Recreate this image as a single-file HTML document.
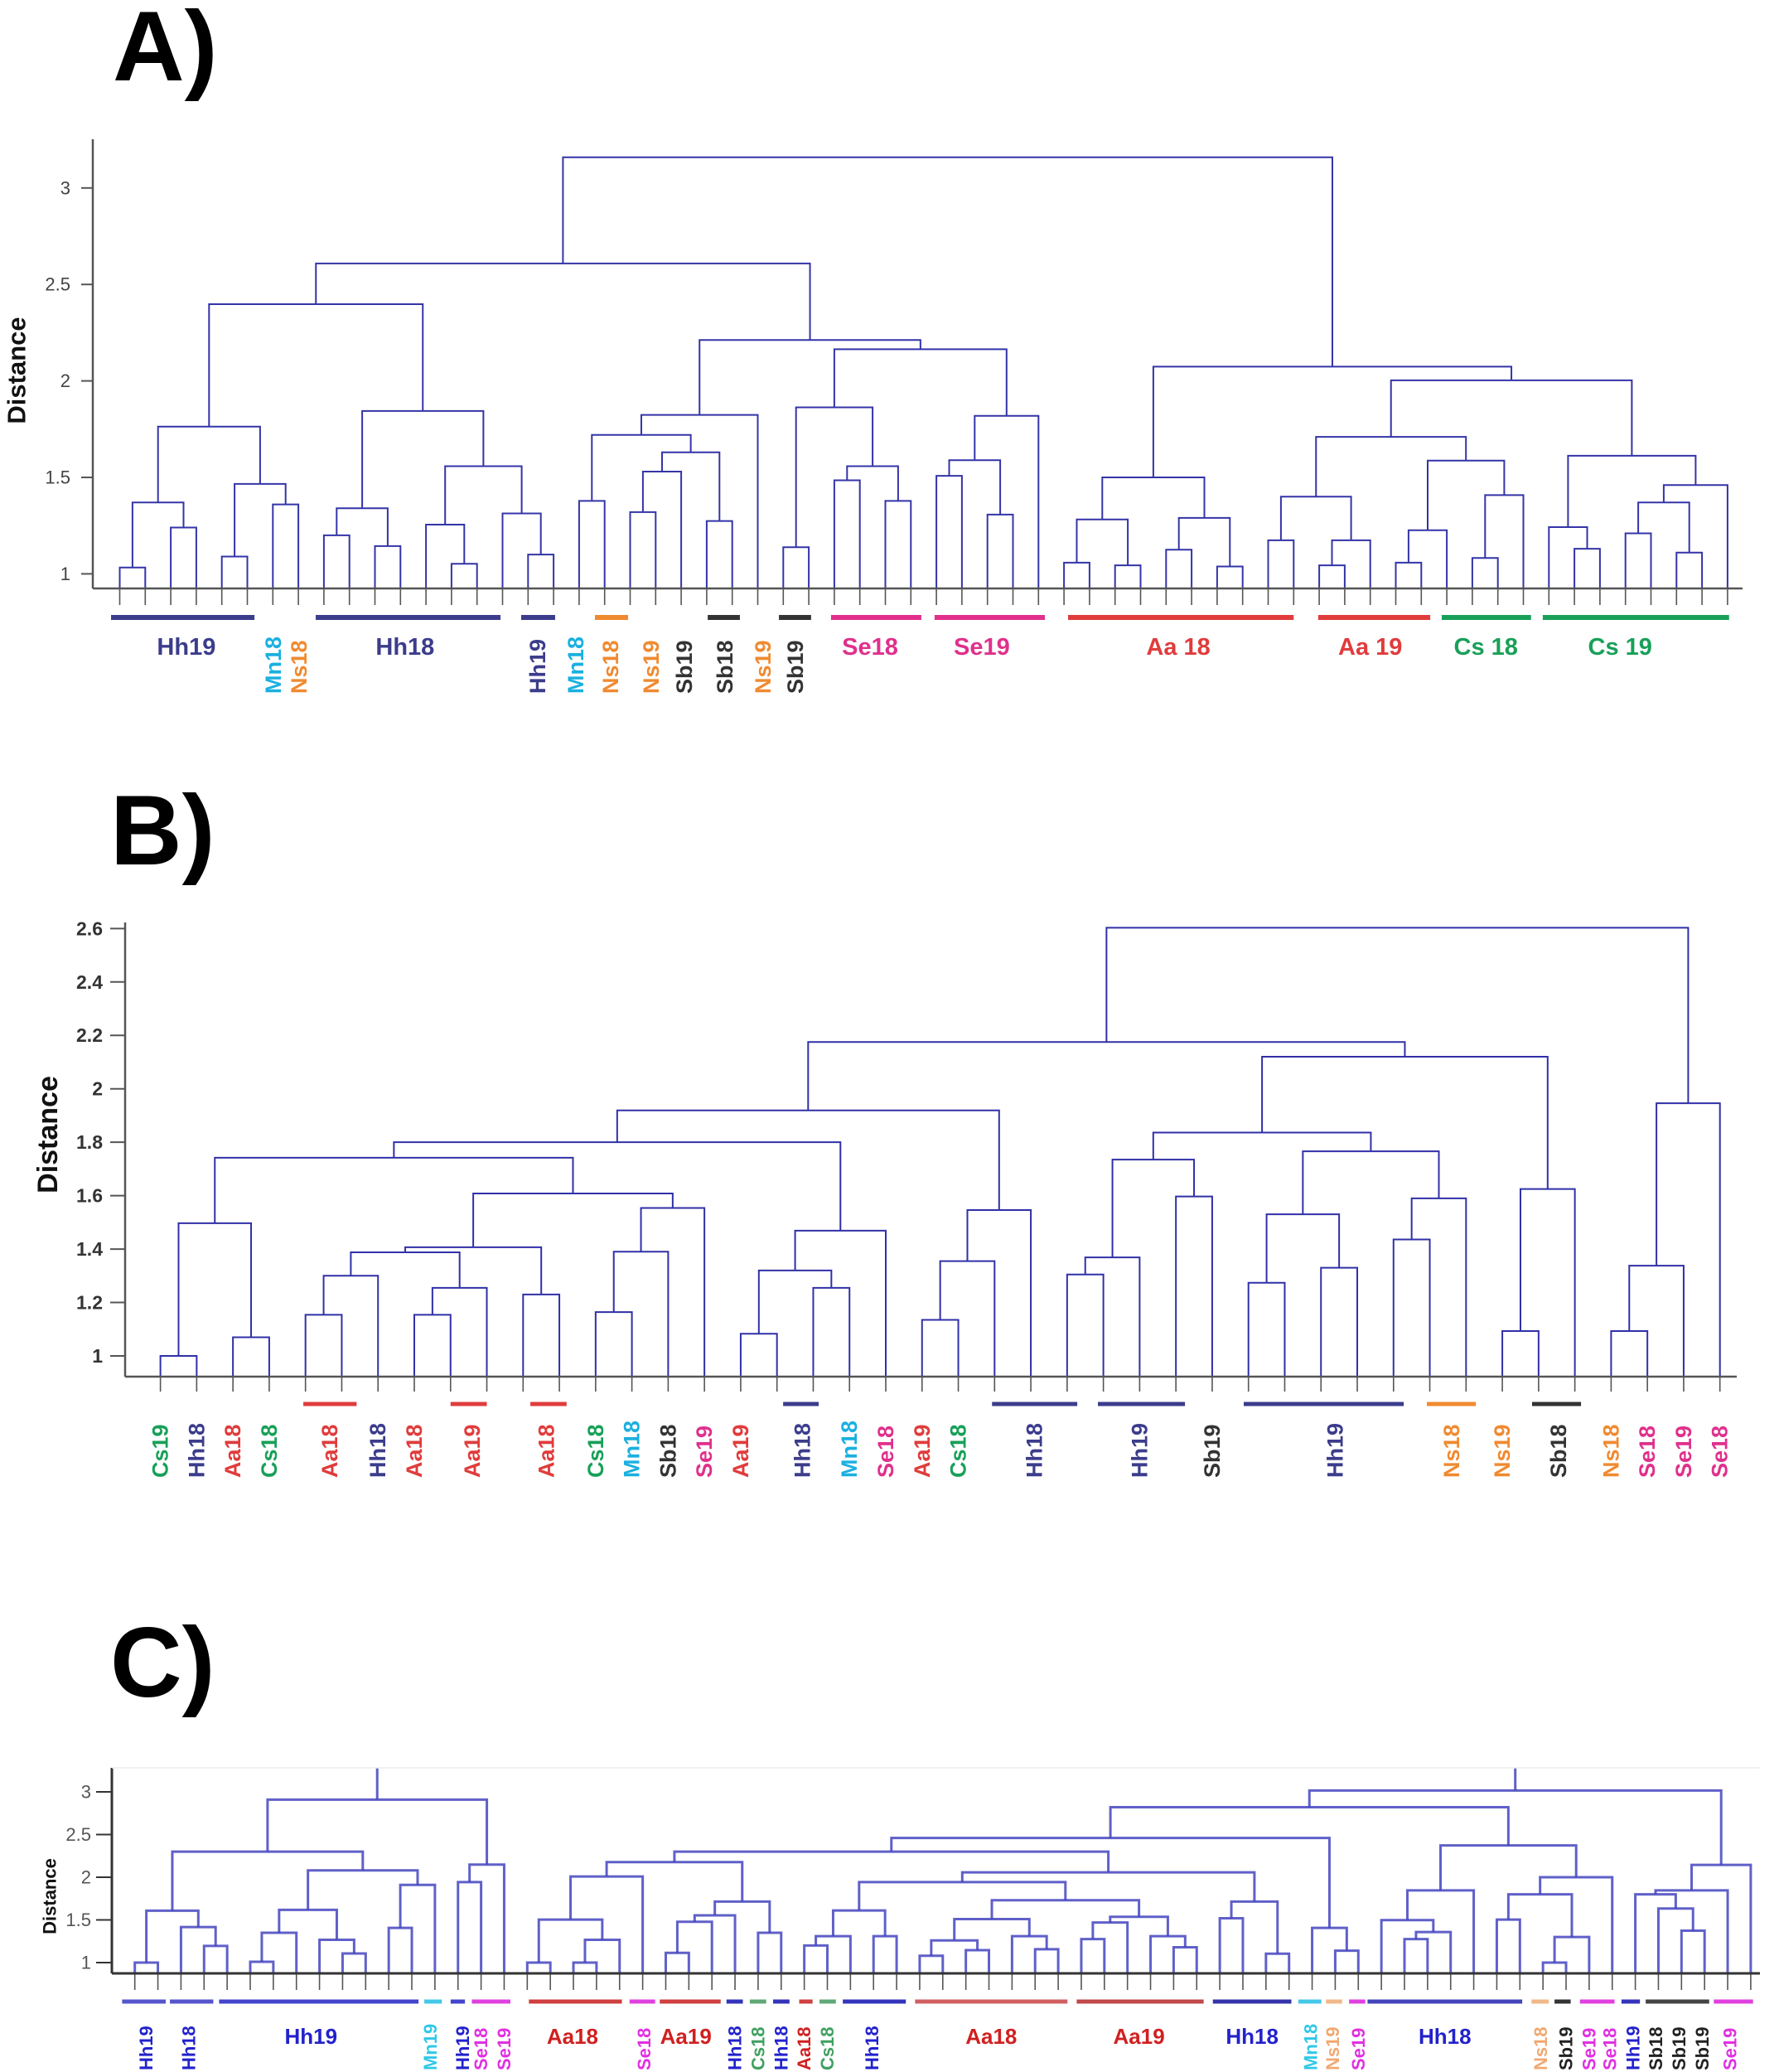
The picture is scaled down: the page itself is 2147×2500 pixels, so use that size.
<!DOCTYPE html>
<html><head><meta charset="utf-8"><style>
html,body{margin:0;padding:0;background:#fff;}
svg{display:block;font-family:"Liberation Sans",Arial,sans-serif;}
</style></head><body>
<svg id="fig" width="2147" height="2500" viewBox="0 0 2147 2500" xmlns="http://www.w3.org/2000/svg">
<defs><clipPath id="clipC"><rect x="100" y="2133" width="2047" height="367"/></clipPath></defs>
<text x="136" y="97" font-size="120" font-weight="bold">A)</text>
<text x="133" y="1043" font-size="120" font-weight="bold">B)</text>
<text x="133" y="2047" font-size="120" font-weight="bold">C)</text>
</svg>
<script>
// ---------- Panel A data ----------
const aN = 64;
const aLeft  = [0,2,64,4,6,67,66,8,10,71,13,12,16,15,75,73,70,18,20,82,23,83,81,86,26,28,30,89,88,32,34,93,95,92,87,80,37,39,100,41,43,103,102,45,47,108,107,50,111,53,113,112,110,57,56,59,61,119,121,118,116,106,99];
const aRight = [1,3,65,5,7,68,69,9,11,72,14,74,17,76,77,78,79,19,21,22,24,84,85,25,27,29,31,90,91,33,35,94,36,96,97,98,38,40,101,42,44,104,105,46,48,49,109,51,52,54,55,114,115,58,117,60,62,120,63,122,123,124,125];
const aHeight = [1.033,1.24,1.37,1.09,1.36,1.466,1.763,1.20,1.144,1.34,1.052,1.255,1.10,1.313,1.558,1.844,2.398,1.378,1.32,1.53,1.274,1.63,1.72,1.824,1.138,1.485,1.378,1.558,1.863,1.508,1.307,1.589,1.819,2.164,2.212,2.609,1.058,1.044,1.282,1.125,1.038,1.29,1.50,1.174,1.044,1.174,1.40,1.058,1.226,1.082,1.408,1.587,1.71,1.13,1.242,1.21,1.11,1.37,1.46,1.612,2.003,2.074,3.159];
const aTicks = [1,1.5,2,2.5,3];
const aTickLabels = ["1","1.5","2","2.5","3"];
const aBarStart = [-0.34,7.68,15.73,18.62,23.04,25.83,27.87,31.93,37.16,46.96,51.8,55.76];
const aBarEnd   = [5.28,14.92,17.06,19.92,24.3,27.09,31.41,36.25,46.0,51.35,55.3,63.06];
const aBarColor = ["#3c3c8c","#3c3c8c","#3c3c8c","#f08a30","#333","#333","#e0308c","#e0308c","#e03c3c","#e03c3c","#18a058","#18a058"];
const aLabelText = ["Hh19","Mn18","Ns18","Hh18","Hh19","Mn18","Ns18","Ns19","Sb19","Sb18","Ns19","Sb19","Se18","Se19","Aa 18","Aa 19","Cs 18","Cs 19"];
const aLabelPos  = [2.61,6.02,7.03,11.18,16.38,17.87,19.23,20.83,22.13,23.72,25.21,26.48,29.4,33.78,41.48,49.0,53.53,58.79];
const aLabelVert = [0,1,1,0,1,1,1,1,1,1,1,1,0,0,0,0,0,0];
const aLabelColor= ["#3c3c8c","#1ab0e0","#f08a30","#3c3c8c","#3c3c8c","#1ab0e0","#f08a30","#f08a30","#333","#333","#f08a30","#333","#e0308c","#e0308c","#e03c3c","#e03c3c","#18a058","#18a058"];

// ---------- Panel B data ----------
const bN = 44;
const bLeft  = [0,2,44,4,47,7,49,48,10,51,12,54,55,53,46,16,18,59,61,58,21,64,65,63,25,68,28,69,30,32,72,34,75,74,71,37,79,78,67,40,83,84,82];
const bRight = [1,3,45,5,6,8,9,50,11,52,13,14,15,56,57,17,19,60,20,62,22,23,24,66,26,27,29,70,31,33,73,35,36,76,77,38,39,80,81,41,42,43,85];
const bHeight = [1.00,1.07,1.497,1.154,1.30,1.154,1.255,1.388,1.23,1.407,1.164,1.39,1.554,1.608,1.742,1.083,1.255,1.32,1.469,1.80,1.135,1.355,1.546,1.919,1.305,1.369,1.597,1.735,1.274,1.33,1.53,1.436,1.59,1.766,1.836,1.093,1.625,2.12,2.175,1.093,1.338,1.946,2.603];
const bTicks = [1,1.2,1.4,1.6,1.8,2,2.2,2.4,2.6];
const bTickLabels = ["1","1.2","1.4","1.6","1.8","2","2.2","2.4","2.6"];
const bBarStart = [3.94,8.0,10.2,17.17,22.93,25.85,29.87,34.92,37.82];
const bBarEnd   = [5.41,9.0,11.2,18.15,25.28,28.25,34.28,36.27,39.17];
const bBarColor = ["#e03c3c","#e03c3c","#e03c3c","#3c3c8c","#3c3c8c","#3c3c8c","#3c3c8c","#f08a30","#333"];
const bLabelText = ["Cs19","Hh18","Aa18","Cs18","Aa18","Hh18","Aa18","Aa19","Aa18","Cs18","Mn18","Sb18","Se19","Aa19","Hh18","Mn18","Se18","Aa19","Cs18","Hh18","Hh19","Sb19","Hh19","Ns18","Ns19","Sb18","Ns18","Se18","Se19","Se18"];
const bLabelPos  = [0,1,2,3,4.67,6,7,8.6,10.64,12,13,14,15,16,17.7,19,20,21,22,24.1,27.0,29,32.4,35.6,37,38.55,40,41,42,43];
const bLabelColor= ["#18a058","#3c3c8c","#e03c3c","#18a058","#e03c3c","#3c3c8c","#e03c3c","#e03c3c","#e03c3c","#18a058","#1ab0e0","#333","#e0308c","#e03c3c","#3c3c8c","#1ab0e0","#e0308c","#e03c3c","#18a058","#3c3c8c","#3c3c8c","#333","#3c3c8c","#f08a30","#f08a30","#333","#f08a30","#e0308c","#e0308c","#e0308c"];

// ---------- Panel C data ----------
const cN = 71;
const cLeft  = [0,3,2,71,5,75,9,8,76,11,80,79,74,14,84,83,17,19,88,87,90,23,92,93,27,94,91,29,98,32,99,34,36,102,39,38,104,41,108,45,44,109,107,101,47,49,115,114,97,52,51,119,55,123,54,125,59,61,128,127,130,126,122,67,66,65,136,137,133,86];
const cRight = [1,4,72,73,6,7,10,77,78,12,13,81,82,15,16,85,18,20,21,89,22,24,25,26,28,95,96,30,31,33,100,35,37,103,40,105,106,42,43,46,110,111,112,113,48,50,116,117,118,53,120,121,56,57,124,58,60,62,63,129,64,131,132,68,134,135,69,70,138,139];
const cHeight = [1.00,1.195,1.416,1.608,1.01,1.35,1.107,1.267,1.618,1.407,1.91,2.08,2.30,1.943,2.148,2.909,1.0,1.0,1.267,1.504,2.008,1.114,1.478,1.553,1.35,1.715,2.177,1.20,1.31,1.31,1.611,1.08,1.146,1.26,1.156,1.31,1.51,1.276,1.47,1.18,1.31,1.537,1.73,1.943,1.52,1.104,1.715,2.057,2.30,1.14,1.407,2.46,1.276,1.358,1.498,1.846,1.504,1.0,1.30,1.80,2.0,2.372,2.82,1.374,1.634,1.80,1.846,2.145,3.016,3.35];
const cTicks = [1,1.5,2,2.5,3];
const cTickLabels = ["1","1.5","2","2.5","3"];
const cBarStart = [-0.55,1.52,3.65,12.54,13.68,14.6,17.07,21.43,22.74,25.63,26.64,27.65,28.78,29.66,30.67,33.8,40.8,46.7,50.4,51.6,52.6,53.4,60.5,61.5,62.6,64.4,65.45,68.4];
const cBarEnd   = [1.34,3.4,12.29,13.3,14.3,16.27,21.1,22.54,25.38,26.34,27.35,28.36,29.36,30.37,33.4,40.4,46.3,50.1,51.4,52.3,53.3,60.1,61.25,62.2,64.1,65.2,68.2,70.1];
const cBarColor = ["#5555cc","#5555cc","#4444cc","#44c8e8","#4444cc","#e040e0","#d04040","#e040e0","#d04040","#3333bb","#60a878","#3333bb","#d04040","#60a878","#3333bb","#d06060","#c04848","#3333aa","#44c8e8","#f0b888","#e040e0","#4444bb","#f0b888","#333","#e040e0","#3333bb","#444","#e040e0"];
const cLabelText = ["Hh19","Hh18","Hh19","Mn19","Hh19","Se18","Se19","Aa18","Se18","Aa19","Hh18","Cs18","Hh18","Aa18","Cs18","Hh18","Aa18","Aa19","Hh18","Mn18","Ns19","Se19","Hh18","Ns18","Sb19","Se19","Se18","Hh19","Sb18","Sb19","Sb19","Se19"];
const cLabelPos  = [0.5,2.35,7.63,12.8,14.2,15.0,16.0,18.96,22.06,23.87,26,27,28,29,30,31.93,37.1,43.5,48.4,50.95,51.9,53,56.75,60.9,62,63,63.9,64.9,65.9,66.9,67.9,69.1];
const cLabelVert = [1,1,0,1,1,1,1,0,1,0,1,1,1,1,1,1,0,0,0,1,1,1,0,1,1,1,1,1,1,1,1,1];
const cLabelColor= ["#2222cc","#2222cc","#2222cc","#30c8e8","#2222cc","#e030e0","#e030e0","#d02020","#e030e0","#d02020","#2222cc","#40a060","#2222cc","#d02020","#40a060","#2222cc","#d02020","#d02020","#2222cc","#30c8e8","#f0a870","#e030e0","#2222cc","#f0a870","#222","#e030e0","#e030e0","#2222cc","#222","#222","#222","#e030e0"];

const NS = 'http://www.w3.org/2000/svg';
const svg = document.getElementById('fig');
function mk(tag, attrs, parent) {
  const e = document.createElementNS(NS, tag);
  for (const k in attrs) e.setAttribute(k, attrs[k]);
  (parent || svg).appendChild(e);
  return e;
}

function drawPanel(p) {
  const g = mk('g', {});
  
  
  const xOf = i => p.x0 + i * p.dx;
  const yOf = v => p.y1 - (v - 1) * p.unit;
  const ya = mk('line', {x1: p.axisX, y1: p.axisTop, x2: p.axisX, y2: p.base, stroke: p.axisColor, 'stroke-width': p.axisW}, g);
  
  
  p.ticks.forEach((t, i) => {
    const tk = mk('line', {x1: p.tickX1, y1: yOf(t), x2: p.axisX, y2: yOf(t), stroke: p.axisColor, 'stroke-width': 2}, g);
    
    
    const tl = mk('text', {x: p.tickLabelX, y: yOf(t), 'text-anchor': 'end', 'dominant-baseline': 'central', 'font-size': p.tickFs, 'font-weight': p.tickFw, fill: p.tickColor}, g);
    tl.textContent = p.tickLabels[i];
    
    
  });
  const yt = mk('text', {x: p.titleX, y: p.titleY, transform: `rotate(-90 ${p.titleX} ${p.titleY})`, 'text-anchor': 'middle', 'dominant-baseline': 'central', 'font-size': p.titleFs, 'font-weight': 'bold', fill: '#111'}, g);
  yt.textContent = 'Distance';
  
  
  for (let i = 0; i < p.N; i++) {
    const s = mk('line', {x1: xOf(i), y1: p.base, x2: xOf(i), y2: p.stubEnd, stroke: '#555', 'stroke-width': 1.6}, g);
    
    
  }
  const tg = mk('g', p.clip ? {'clip-path': 'url(#' + p.clip + ')'} : {}, g);
  
  
  const pos = [];
  for (let i = 0; i < p.N; i++) pos.push({x: xOf(i), y: p.base});
  for (let k = 0; k < p.L.length; k++) {
    const a = pos[p.L[k]], b = pos[p.R[k]], y = yOf(p.H[k]);
    const path = mk('path', {d: `M${a.x},${a.y}V${y}H${b.x}V${b.y}`, fill: 'none', stroke: p.lineColor, 'stroke-width': p.lineW, opacity: p.lineOp}, tg);
    
    
    pos.push({x: (a.x + b.x) / 2, y: y});
  }
  const xa = mk('line', {x1: p.axisX, y1: p.base, x2: p.axisEnd, y2: p.base, stroke: p.axisColor, 'stroke-width': p.axisW}, g);
  
  
  p.barS.forEach((s, i) => {
    const r = mk('rect', {x: xOf(s), y: p.barY - p.barH / 2, width: (p.barE[i] - s) * p.dx, height: p.barH, fill: p.barC[i]}, g);
    
    
  });
  p.lt.forEach((t, i) => {
    const x = xOf(p.lp[i]);
    let el;
    if (p.lv[i]) {
      el = mk('text', {x: x, y: p.vBottom, transform: `rotate(-90 ${x} ${p.vBottom})`, 'dominant-baseline': 'central', 'font-size': p.vFs, 'font-weight': 'bold', fill: p.lc[i]}, g);
    } else {
      el = mk('text', {x: x, y: p.hBase, 'text-anchor': 'middle', 'font-size': p.hFs, 'font-weight': 'bold', fill: p.lc[i]}, g);
    }
    el.textContent = t;
    
    
  });
}

drawPanel({name: 'panel-a-dendrogram', N: aN, L: aLeft, R: aRight, H: aHeight, x0: 144.5, dx: 30.8, y1: 692.4, unit: 232.8,
  base: 710, stubEnd: 730, axisX: 112, axisTop: 168, axisEnd: 2103, axisColor: '#555', axisW: 2.5,
  ticks: aTicks, tickLabels: aTickLabels, tickX1: 98, tickLabelX: 85, tickFs: 22, tickFw: 'normal', tickColor: '#444',
  titleX: 20, titleY: 447, titleFs: 31, lineColor: '#3434a8', lineW: 2, lineOp: 1,
  barS: aBarStart, barE: aBarEnd, barC: aBarColor, barY: 745, barH: 6,
  lt: aLabelText, lp: aLabelPos, lv: aLabelVert, lc: aLabelColor, vBottom: 837, vFs: 27, hBase: 790, hFs: 29});

drawPanel({name: 'panel-b-dendrogram', N: bN, L: bLeft, R: bRight, H: bHeight, x0: 193.6, dx: 43.77, y1: 1636, unit: 322.3,
  base: 1661, stubEnd: 1679, axisX: 151, axisTop: 1113, axisEnd: 2096, axisColor: '#555', axisW: 2.5,
  ticks: bTicks, tickLabels: bTickLabels, tickX1: 133, tickLabelX: 124, tickFs: 23, tickFw: 'bold', tickColor: '#333',
  titleX: 58, titleY: 1369, titleFs: 34, lineColor: '#3030a8', lineW: 2, lineOp: 1,
  barS: bBarStart, barE: bBarEnd, barC: bBarColor, barY: 1694, barH: 5,
  lt: bLabelText, lp: bLabelPos, lv: bLabelText.map(() => 1), lc: bLabelColor, vBottom: 1783, vFs: 27, hBase: 0, hFs: 27});

drawPanel({name: 'panel-c-dendrogram', N: cN, L: cLeft, R: cRight, H: cHeight, x0: 162.7, dx: 27.86, y1: 2368, unit: 103,
  base: 2381, stubEnd: 2401, axisX: 135, axisTop: 2133, axisEnd: 2124, axisColor: '#333', axisW: 3,
  ticks: cTicks, tickLabels: cTickLabels, tickX1: 116, tickLabelX: 110, tickFs: 22, tickFw: 'normal', tickColor: '#555',
  titleX: 60, titleY: 2288, titleFs: 22, lineColor: '#4444c0', lineW: 3, lineOp: 0.85, clip: 'clipC',
  barS: cBarStart, barE: cBarEnd, barC: cBarColor, barY: 2415, barH: 5,
  lt: cLabelText, lp: cLabelPos, lv: cLabelVert, lc: cLabelColor, vBottom: 2498, vFs: 22, hBase: 2466, hFs: 26});

const frame = mk('line', {x1: 135, y1: 2133, x2: 2124, y2: 2133, stroke: '#eee', 'stroke-width': 1.5});


</script>
</body></html>
